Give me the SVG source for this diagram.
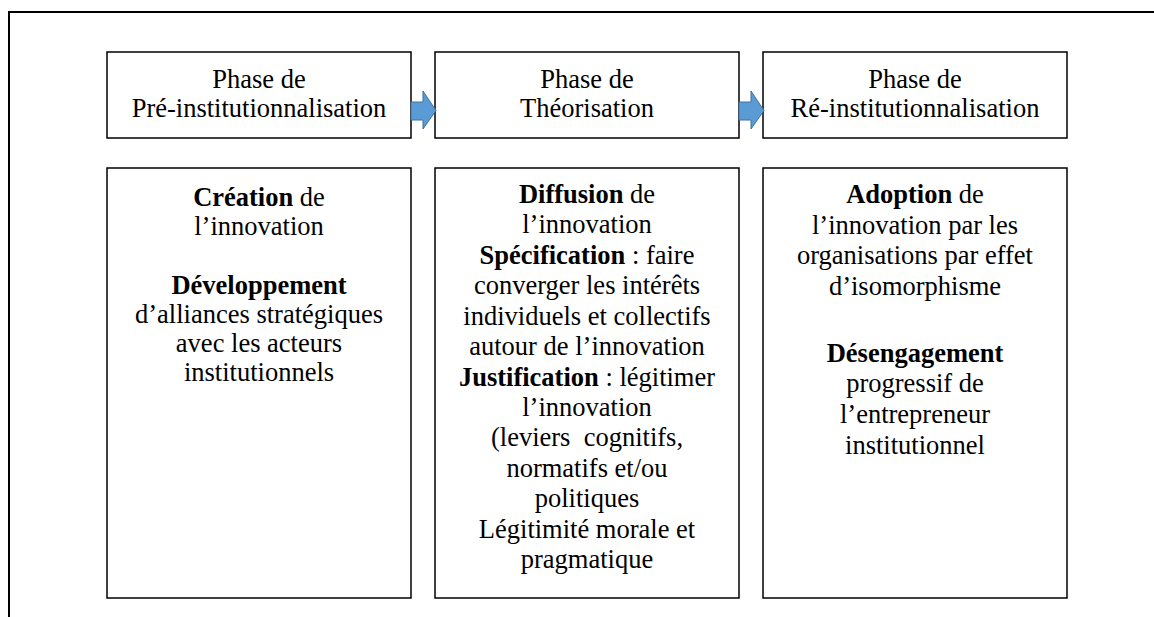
<svg xmlns="http://www.w3.org/2000/svg" width="1154" height="617" viewBox="0 0 1154 617">
<style>
.box{fill:#fff;stroke:#000;stroke-width:1.5}
.t{font-size:26.5px;fill:#000;text-anchor:middle}
.b{font-weight:bold}
.arr{fill:#5B9BD5;stroke:#41719C;stroke-width:1}
.frame{fill:none;stroke:#000;stroke-width:2}
</style>
<path class="frame" d="M9,617 V12 H1154"/>
<g font-family="'Liberation Serif', 'DejaVu Serif', serif">
<g id="phase1">
<rect class="box" x="107" y="52" width="304" height="86"/>
<text class="t" x="259" y="88">Phase de</text>
<text class="t" x="259" y="117">Pré-institutionnalisation</text>
</g>
<g id="phase2">
<rect class="box" x="435" y="52" width="304" height="86"/>
<text class="t" x="587" y="88">Phase de</text>
<text class="t" x="587" y="117">Théorisation</text>
</g>
<g id="phase3">
<rect class="box" x="763" y="52" width="304" height="86"/>
<text class="t" x="915" y="88">Phase de</text>
<text class="t" x="915" y="117">Ré-institutionnalisation</text>
</g>
<g id="detail1">
<rect class="box" x="107" y="168" width="304" height="430"/>
<text class="t" x="259" y="206"><tspan class="b">Création</tspan> de</text>
<text class="t" x="259" y="235">l’innovation</text>
<text class="t" x="259" y="294"><tspan class="b">Développement</tspan></text>
<text class="t" x="259" y="323">d’alliances stratégiques</text>
<text class="t" x="259" y="352">avec les acteurs</text>
<text class="t" x="259" y="381">institutionnels</text>
</g>
<g id="detail2">
<rect class="box" x="435" y="168" width="304" height="430"/>
<text class="t" x="587" y="203"><tspan class="b">Diffusion</tspan> de</text>
<text class="t" x="587" y="233">l’innovation</text>
<text class="t" x="587" y="264"><tspan class="b">Spécification</tspan> : faire</text>
<text class="t" x="587" y="294">converger les intérêts</text>
<text class="t" x="587" y="325">individuels et collectifs</text>
<text class="t" x="587" y="355">autour de l’innovation</text>
<text class="t" x="587" y="386"><tspan class="b">Justification</tspan> : légitimer</text>
<text class="t" x="587" y="416">l’innovation</text>
<text class="t" x="587" y="446" xml:space="preserve">(leviers  cognitifs,</text>
<text class="t" x="587" y="477">normatifs et/ou</text>
<text class="t" x="587" y="507">politiques</text>
<text class="t" x="587" y="538">Légitimité morale et</text>
<text class="t" x="587" y="568">pragmatique</text>
</g>
<g id="detail3">
<rect class="box" x="763" y="168" width="304" height="430"/>
<text class="t" x="915" y="203"><tspan class="b">Adoption</tspan> de</text>
<text class="t" x="915" y="234">l’innovation par les</text>
<text class="t" x="915" y="264">organisations par effet</text>
<text class="t" x="915" y="295">d’isomorphisme</text>
<text class="t" x="915" y="362"><tspan class="b">Désengagement</tspan></text>
<text class="t" x="915" y="392">progressif de</text>
<text class="t" x="915" y="423">l’entrepreneur</text>
<text class="t" x="915" y="454">institutionnel</text>
</g>
</g>
<g id="connectors">
<path class="arr" d="M411,102 H423 V91 L436,110.5 L423,129 V120 H411 Z"/>
<path class="arr" d="M739,102 H751 V91 L764,110.5 L751,129 V120 H739 Z"/>
</g>
</svg>
